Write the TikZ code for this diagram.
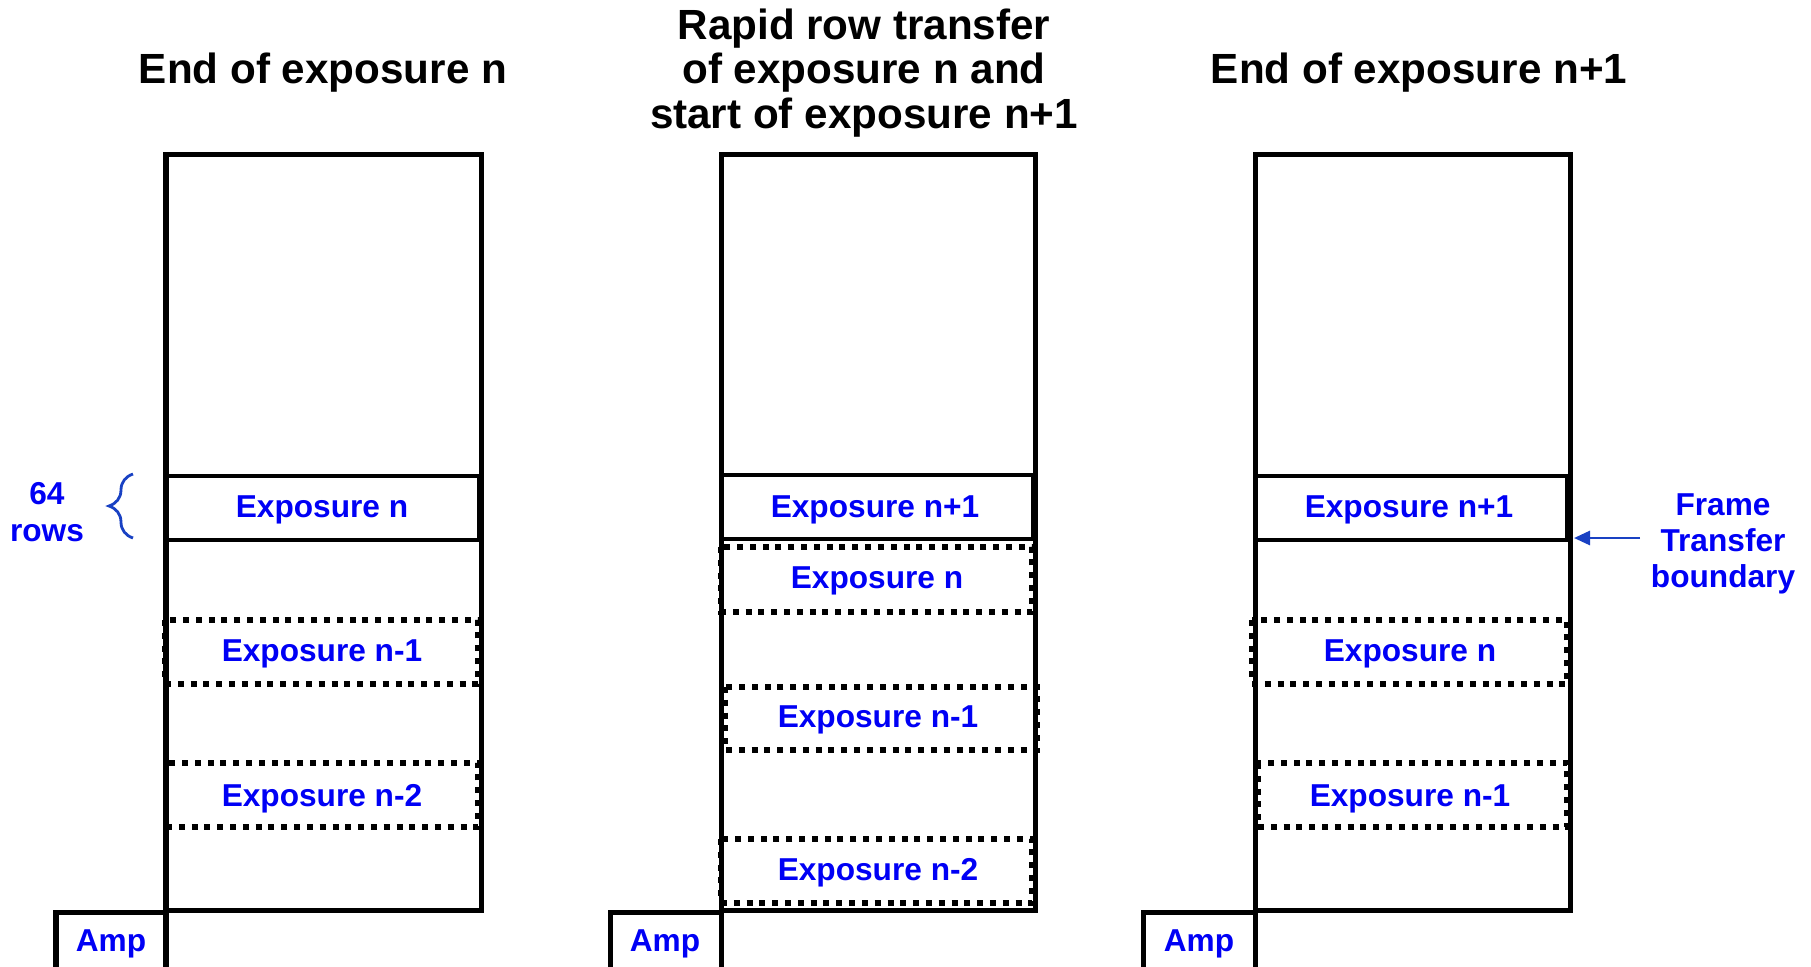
\documentclass[tikz,border=0pt]{standalone}
\usepackage{fontspec}
\setmainfont{Liberation Sans}
\usetikzlibrary{decorations.pathreplacing,arrows.meta}
\definecolor{lblue}{RGB}{0,0,245}
\definecolor{dblue}{RGB}{25,65,195}
\tikzset{
  outerbox/.style={draw=black, line width=0.05cm},
  solidbox/.style={draw=black, line width=0.035cm},
  dotbox/.style={draw=black, line width=0.06cm, dash pattern=on 0.06cm off 0.068cm},
  lbl/.style={text=lblue, font=\bfseries\fontsize{9}{10.3}\selectfont, inner sep=0pt, align=center},
  ttl/.style={text=black, font=\bfseries\fontsize{12}{12.7}\selectfont, inner sep=0pt, align=center},
  arr/.style={draw=dblue, line width=0.028cm, -{Triangle[length=0.16cm,width=0.14cm]}},
}
\begin{document}
\begin{tikzpicture}[x=0.01cm,y=-0.01cm]
\useasboundingbox (0,0) rectangle (1811,966);
\clip (0,0) rectangle (1811,966);
% titles
\node[ttl] (t1) at (323,73) {End of exposure n};
\node[ttl] (t2) at (864,73) {Rapid row transfer\\of exposure n and\\start of exposure n+1};
\node[ttl] (t3) at (1419,73) {End of exposure n+1};
% ---------- left panel
\draw[solidbox] (166,476) rectangle (479,540);
\draw[dotbox] (165,620) rectangle (478,684);
\draw[dotbox] (166,763) rectangle (478,827);
\draw[outerbox] (166,154) rectangle (481,910);
\draw[outerbox] (56,912) rectangle (166,980);
\node[lbl] (l1) at (322,510) {Exposure n};
\node[lbl] (l2) at (322,654) {Exposure n-1};
\node[lbl] (l3) at (322,799) {Exposure n-2};
\node[lbl] (amp1) at (111,944) {Amp};
\node[lbl] (rows) at (47,512) {64\\rows};
\draw[dblue, line width=0.028cm, decorate, decoration={brace, amplitude=0.24cm}] (133,538) -- (133,474);
% ---------- middle panel
\draw[solidbox] (721,475) rectangle (1033,539);
\draw[dotbox] (721,547) rectangle (1032,612);
\draw[dotbox] (725,687) rectangle (1037,750);
\draw[dotbox] (721,839) rectangle (1032,903);
\draw[outerbox] (721,154) rectangle (1035,910);
\draw[outerbox] (610,912) rectangle (721,980);
\node[lbl] (m1) at (875,510) {Exposure n+1};
\node[lbl] (m2) at (877,581) {Exposure n};
\node[lbl] (m3) at (878,720) {Exposure n-1};
\node[lbl] (m4) at (878,873) {Exposure n-2};
\node[lbl] (amp2) at (665,944) {Amp};
% ---------- right panel
\draw[solidbox] (1255,476) rectangle (1567,540);
\draw[dotbox] (1252,620) rectangle (1567,684);
\draw[dotbox] (1258,763) rectangle (1567,827);
\draw[outerbox] (1255,154) rectangle (1570,910);
\draw[outerbox] (1143,912) rectangle (1255,980);
\node[lbl] (r1) at (1409,510) {Exposure n+1};
\node[lbl] (r2) at (1410,654) {Exposure n};
\node[lbl] (r3) at (1410,799) {Exposure n-1};
\node[lbl] (amp3) at (1199,944) {Amp};
\node[lbl] (ft) at (1723,544) {Frame\\Transfer\\boundary};
\coordinate (arrtail) at (1640,538);
\coordinate (ftb) at (1574,538);
\draw[arr] (arrtail) -- (ftb);
\end{tikzpicture}
\end{document}
